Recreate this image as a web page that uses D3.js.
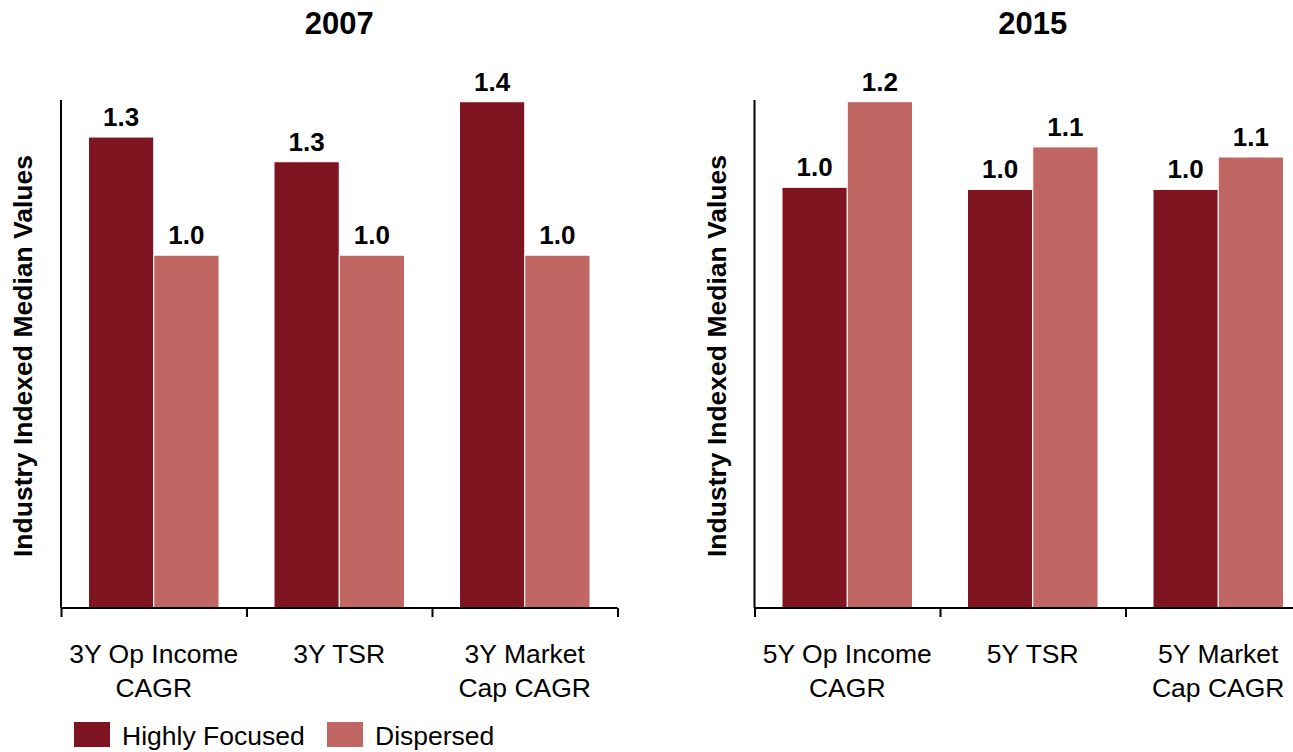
<!DOCTYPE html>
<html>
<head>
<meta charset="utf-8">
<script src="https://cdn.jsdelivr.net/npm/d3@7"></script>
<style>
  html, body { margin: 0; padding: 0; background: #fff; }
  svg { display: block; font-family: "Liberation Sans", Arial, Helvetica, sans-serif; }
</style>
</head>
<body>
<svg id="chart" width="1293" height="752"></svg>
<script>
// Panel titles
const panelTitles = ["2007", "2015"];

// Category labels (one array of lines per category)
const categories2007 = [["3Y Op Income", "CAGR"], ["3Y TSR"], ["3Y Market", "Cap CAGR"]];
const categories2015 = [["5Y Op Income", "CAGR"], ["5Y TSR"], ["5Y Market", "Cap CAGR"]];

// Series
const seriesNames = ["Highly Focused", "Dispersed"];
const focused2007 = [1.335, 1.265, 1.435];
const dispersed2007 = [1.0, 1.0, 1.0];
const focused2015 = [1.0, 0.995, 0.995];
const dispersed2015 = [1.2035, 1.096, 1.072];

// Upper end of each panel's value axis
const yMax2007 = 1.44;
const yMax2015 = 1.2075;

const yAxisTitle = "Industry Indexed Median Values";
const colors = ["#7f1520", "#c06663"];

const svg = d3.select("#chart");

const plotTop = 100, plotBottom = 608;
const bandW = 185.5;

const panels = [
  { title: panelTitles[0], cats: categories2007, series: [focused2007, dispersed2007], yMax: yMax2007, x0: 61 },
  { title: panelTitles[1], cats: categories2015, series: [focused2015, dispersed2015], yMax: yMax2015, x0: 754.5 }
];

const fmt = d3.format(".1f");

panels.forEach(p => {
  const g = svg.append("g");
  const idx = d3.range(p.cats.length);

  const x0 = d3.scaleBand().domain(idx).range([p.x0, p.x0 + bandW * idx.length]).padding(0);
  const x1 = d3.scaleBand().domain(d3.range(seriesNames.length)).range([27.5, bandW - 27.5]).padding(0);
  const y = d3.scaleLinear().domain([0, p.yMax]).range([plotBottom, plotTop]);

  // Title
  g.append("text")
    .attr("x", p.x0 + bandW * 1.5)
    .attr("y", 34)
    .attr("text-anchor", "middle")
    .attr("font-size", 31)
    .attr("font-weight", "bold")
    .text(p.title);

  // Bars
  idx.forEach(i => {
    p.series.forEach((vals, s) => {
      const v = vals[i];
      const bx = x0(i) + x1(s);
      g.append("rect")
        .attr("x", bx)
        .attr("y", y(v))
        .attr("width", x1.bandwidth())
        .attr("height", y(0) - y(v))
        .attr("fill", colors[s])
        .attr("stroke", "#fff")
        .attr("stroke-width", 1);
      g.append("text")
        .attr("x", bx + x1.bandwidth() / 2)
        .attr("y", y(v) - 11)
        .attr("text-anchor", "middle")
        .attr("font-size", 26)
        .attr("font-weight", "bold")
        .attr("fill", "#000")
        .text(fmt(v));
    });
  });

  // Value axis line
  g.append("line")
    .attr("x1", p.x0).attr("x2", p.x0)
    .attr("y1", plotTop).attr("y2", plotBottom)
    .attr("stroke", "#000").attr("stroke-width", 2);

  // Category axis with ticks at band boundaries
  const xAxis = d3.axisBottom(d3.scaleLinear().domain([0, idx.length]).range([p.x0, p.x0 + bandW * idx.length]))
    .tickValues(d3.range(idx.length + 1))
    .tickSize(9)
    .tickFormat("");
  const ax = g.append("g").attr("transform", `translate(0,${plotBottom})`).call(xAxis);
  ax.select(".domain").attr("stroke", "#000").attr("stroke-width", 2)
    .attr("d", `M${p.x0},0H${p.x0 + bandW * idx.length}`);
  ax.selectAll(".tick line").attr("stroke", "#000").attr("stroke-width", 2);

  // Category labels
  idx.forEach(i => {
    const t = g.append("text")
      .attr("x", x0(i) + bandW / 2)
      .attr("y", 663)
      .attr("text-anchor", "middle")
      .attr("font-size", 26.5)
      .attr("fill", "#000");
    p.cats[i].forEach((line, k) => {
      t.append("tspan")
        .attr("x", x0(i) + bandW / 2)
        .attr("dy", k === 0 ? 0 : 34)
        .text(line);
    });
  });

  // Value axis title
  g.append("text")
    .attr("transform", `translate(${p.x0 - 29},${(plotTop + plotBottom) / 2 + 2}) rotate(-90)`)
    .attr("text-anchor", "middle")
    .attr("font-size", 26.5)
    .attr("font-weight", "bold")
    .text(yAxisTitle);
});

// Legend
const legendX = [74, 327];
const legend = svg.append("g");
seriesNames.forEach((name, s) => {
  legend.append("rect")
    .attr("x", legendX[s]).attr("y", 722)
    .attr("width", 36).attr("height", 25)
    .attr("fill", colors[s]);
  legend.append("text")
    .attr("x", legendX[s] + 48).attr("y", 745)
    .attr("font-size", 26.5)
    .attr("fill", "#000")
    .text(name);
});
</script>
</body>
</html>
